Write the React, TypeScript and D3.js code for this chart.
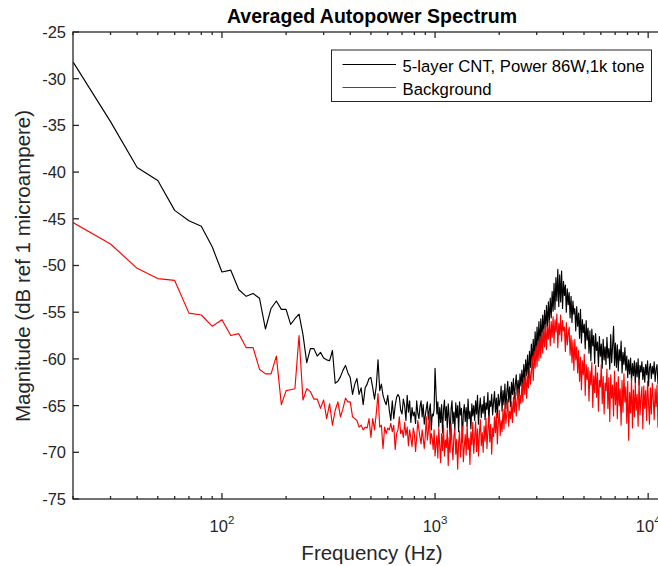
import React from 'react';
import * as d3 from 'd3';

// ---------- data ----------
// FFT bins 20..1000 Hz (10 Hz spacing), then a denser log grid of bins up to the right edge
const lowFreqs: number[] = d3.range(20, 1001, 10);
const highFreqs: number[] = d3.range(240).map((i) => 1020 * Math.pow(11700 / 1020, i / 239));

const cntLow: number[] = [
  -28.2, -34.6, -39.5, -40.9, -44.1, -45.2, -45.8, -48.0, -50.7, -50.5,
  -52.6, -53.3, -53.0, -53.5, -56.8, -54.6, -53.8, -54.7, -54.7, -56.3,
  -55.7, -55.2, -57.4, -60.4, -58.9, -58.9, -59.7, -59.3, -59.9, -60.1,
  -60.2, -59.1, -62.6, -62.4, -61.9, -61.2, -60.7, -61.5, -62.0, -63.8,
  -62.7, -62.1, -63.8, -63.1, -64.9, -63.1, -62.7, -62.1, -62.0, -63.1,
  -64.3, -62.9, -60.1, -63.4, -62.7, -63.9, -64.5, -64.9, -63.9, -65.5,
  -66.6, -64.5, -66.4, -65.0, -64.1, -63.8, -64.1, -65.5, -65.9, -64.3,
  -65.0, -66.6, -63.9, -65.7, -64.5, -66.8, -65.2, -66.1, -65.7, -66.9,
  -64.5, -65.8, -66.4, -65.1, -64.5, -66.2, -64.9, -67.0, -66.1, -65.3,
  -64.6, -66.5, -65.5, -64.8, -67.6, -65.9, -66.1, -65.4, -61.0,
];
const bgLow: number[] = [
  -45.4, -47.7, -50.3, -51.4, -51.6, -55.1, -55.3, -56.5, -55.8, -57.5,
  -57.3, -58.8, -58.8, -61.1, -61.6, -61.6, -59.7, -64.9, -63.4, -63.3,
  -63.2, -57.5, -64.4, -63.2, -63.5, -64.3, -64.3, -65.3, -64.4, -66.4,
  -64.8, -67.1, -65.5, -64.6, -66.2, -65.3, -64.2, -64.6, -64.6, -66.2,
  -66.4, -66.6, -67.3, -67.1, -67.6, -67.3, -67.4, -66.4, -68.4, -66.4,
  -67.6, -65.8, -63.7, -67.3, -67.1, -69.6, -67.3, -68.0, -67.4, -67.6,
  -66.9, -67.8, -67.1, -69.7, -68.0, -67.6, -66.2, -68.0, -67.6, -68.4,
  -66.8, -68.2, -67.3, -69.3, -67.6, -68.5, -69.4, -67.4, -68.0, -69.9,
  -68.4, -66.6, -67.6, -68.4, -69.1, -67.6, -68.5, -69.6, -68.2, -66.2,
  -68.7, -67.8, -65.8, -69.1, -68.0, -68.5, -69.7, -67.6, -70.4,
];
const cntHigh: number[] = [
  -65.9, -64.6, -67.3, -65.2, -66.8, -64.9, -67.9, -65.5, -64.4, -66.6,
  -65.1, -67.4, -64.8, -66.2, -68.3, -65.4, -64.5, -66.9, -65.7, -67.6,
  -64.7, -66.3, -65.0, -67.8, -64.6, -66.0, -65.3, -68.9, -65.8, -64.9,
  -66.7, -65.2, -67.2, -64.3, -66.4, -65.6, -67.5, -64.8, -66.1, -65.0,
  -66.6, -64.5, -65.9, -63.9, -67.0, -65.3, -64.2, -66.3, -64.9, -65.8,
  -64.0, -66.5, -64.7, -65.4, -63.6, -66.8, -64.5, -65.1, -63.8, -66.0,
  -64.6, -63.5, -65.7, -64.2, -66.3, -63.8, -65.0, -64.4, -62.9, -65.6,
  -63.4, -64.9, -62.7, -65.3, -63.6, -62.4, -64.6, -63.0, -65.1, -62.5,
  -63.8, -62.1, -64.3, -62.8, -61.7, -63.9, -62.3, -64.0, -61.6, -62.9,
  -61.2, -63.1, -60.6, -62.4, -60.1, -61.8, -59.6, -62.2, -59.2, -60.9,
  -58.4, -60.7, -57.9, -60.2, -57.1, -59.5, -56.6, -58.8, -56.0, -58.9,
  -55.7, -58.2, -55.3, -57.4, -54.8, -56.9, -54.3, -56.6, -53.9, -56.1,
  -53.5, -55.6, -52.8, -54.9, -51.9, -54.7, -51.3, -53.8, -50.4, -54.4,
  -51.0, -53.9, -50.6, -54.6, -51.7, -53.2, -52.1, -55.0, -52.5, -54.2,
  -52.9, -55.6, -53.3, -56.1, -53.8, -55.2, -54.6, -57.0, -54.4, -56.5,
  -55.1, -57.8, -54.7, -58.3, -55.8, -57.2, -56.3, -58.9, -55.9, -58.0,
  -56.7, -59.4, -57.0, -60.2, -56.8, -58.6, -57.5, -60.5, -57.3, -59.1,
  -58.2, -60.8, -57.6, -59.7, -58.4, -61.0, -57.9, -60.1, -58.7, -60.6,
  -57.7, -59.9, -58.9, -61.1, -57.4, -60.4, -58.6, -56.5, -60.7, -58.3,
  -60.9, -58.5, -61.3, -59.0, -60.2, -58.1, -61.5, -59.3, -60.6, -58.8,
  -61.2, -59.7, -62.0, -60.1, -61.6, -59.9, -62.4, -60.5, -61.8, -60.2,
  -62.6, -60.4, -61.9, -60.0, -62.8, -60.7, -61.4, -60.3, -62.2, -60.9,
  -62.5, -60.6, -61.7, -60.2, -62.9, -61.0, -60.5, -62.1, -60.8, -61.6,
  -60.3, -62.4, -61.1, -60.6, -62.7, -60.9, -61.8, -60.4, -62.2, -61.0,
];
const bgHigh: number[] = [
  -68.2, -70.6, -67.4, -69.3, -71.1, -68.0, -69.8, -67.1, -70.4, -68.7,
  -69.5, -67.6, -71.4, -68.4, -70.0, -66.9, -69.1, -70.8, -68.3, -67.5,
  -70.2, -68.6, -71.8, -69.0, -67.7, -70.5, -68.9, -67.2, -71.0, -69.4,
  -68.1, -70.3, -67.0, -69.7, -68.5, -71.3, -67.8, -69.2, -66.8, -70.1,
  -68.4, -66.7, -69.9, -67.5, -70.4, -68.0, -66.5, -69.3, -67.9, -70.0,
  -67.2, -68.8, -66.4, -69.6, -67.7, -66.1, -68.9, -67.0, -70.2, -67.4,
  -68.3, -66.2, -67.9, -65.8, -69.1, -66.9, -65.5, -68.2, -66.6, -67.8,
  -65.4, -67.5, -64.8, -66.9, -65.9, -64.3, -67.2, -65.6, -66.4, -64.6,
  -66.8, -64.1, -65.7, -63.6, -66.1, -64.4, -63.2, -65.5, -63.9, -64.8,
  -62.6, -64.6, -62.0, -63.8, -61.4, -64.2, -61.9, -63.1, -60.8, -62.7,
  -61.5, -59.7, -62.3, -59.2, -61.0, -58.6, -60.8, -58.1, -60.2, -57.6,
  -59.9, -57.2, -59.4, -56.8, -58.7, -56.3, -59.0, -56.5, -57.9, -55.9,
  -58.6, -56.0, -57.7, -55.5, -58.3, -55.8, -57.1, -55.2, -58.8, -56.2,
  -57.4, -55.3, -58.1, -55.9, -57.0, -56.6, -59.2, -56.1, -58.5, -57.3,
  -56.6, -59.6, -57.5, -60.4, -58.0, -61.2, -57.9, -60.1, -58.7, -61.5,
  -59.1, -62.4, -59.8, -63.3, -60.2, -61.7, -59.5, -63.9, -60.6, -62.2,
  -60.9, -64.5, -61.3, -62.8, -60.4, -65.2, -61.8, -63.6, -60.7, -64.1,
  -61.5, -65.6, -62.3, -63.0, -60.6, -64.8, -61.9, -65.9, -62.6, -63.4,
  -61.1, -65.3, -62.0, -66.7, -61.7, -64.2, -62.8, -66.1, -61.3, -64.9,
  -62.5, -66.4, -61.9, -65.0, -63.2, -67.1, -62.3, -65.7, -61.6, -64.6,
  -63.0, -66.9, -62.4, -68.7, -63.6, -65.8, -62.1, -67.4, -63.3, -66.2,
  -62.7, -65.5, -63.8, -67.2, -62.2, -66.0, -64.1, -63.0, -67.5, -62.9,
  -65.3, -63.4, -66.6, -62.4, -64.7, -67.0, -63.1, -65.9, -62.6, -64.3,
  -66.5, -63.2, -65.1, -62.8, -67.3, -63.7, -64.9, -62.5, -66.2, -63.6,
];

const seriesNames: string[] = ['5-layer CNT, Power 86W,1k tone', 'Background'];
const seriesColors: string[] = ['#000000', '#ff0000'];
const yTickValues: number[] = [-75, -70, -65, -60, -55, -50, -45, -40, -35, -30, -25];
const xMajorTicks: number[] = [100, 1000, 10000];
const xMajorExponents: string[] = ['2', '3', '4'];
const xMinorTicks: number[] = [20, 30, 40, 50, 60, 70, 80, 90, 200, 300, 400, 500, 600, 700, 800, 900,
  2000, 3000, 4000, 5000, 6000, 7000, 8000, 9000];

const titleText = 'Averaged Autopower Spectrum';
const xLabel = 'Frequency (Hz)';
const yLabel = 'Magnitude (dB ref 1 microampere)';

const FONT = '"Liberation Sans", Arial, Helvetica, sans-serif';
const AX = '#262626';

export default function App() {
  const L = 73, R = 671, T = 32, B = 499;
  const x = d3.scaleLog().domain([20, 12800]).range([L, R]);
  const y = d3.scaleLinear().domain([-75, -25]).range([B, T]);

  const freqs = lowFreqs.concat(highFreqs);
  const series = [cntLow.concat(cntHigh), bgLow.concat(bgHigh)];
  const line = d3
    .line<number>()
    .x((_, i) => x(freqs[i]))
    .y((d) => y(d));

  const majLen = 6, minLen = 3;

  return (
    <svg width={658} height={566} style={{ position: 'absolute', left: 0, top: 0, background: '#fff' }}
      fontFamily={FONT}>
      <rect x={0} y={0} width={658} height={566} fill="#fff" />
      <defs>
        <clipPath id="plotClip">
          <rect x={L} y={T} width={R - L} height={B - T} />
        </clipPath>
      </defs>

      {/* data */}
      <g clipPath="url(#plotClip)">
        {series.map((s, k) => (
          <path key={k} d={line(s) || ''} fill="none" stroke={seriesColors[k]} strokeWidth={1.15}
            strokeLinejoin="round" />
        ))}
      </g>

      {/* axes box */}
      <rect x={L} y={T} width={R - L} height={B - T} fill="none" stroke={AX} strokeWidth={1.3} />

      {/* y ticks */}
      {yTickValues.map((v) => (
        <g key={v}>
          <line x1={L} x2={L + majLen} y1={y(v)} y2={y(v)} stroke={AX} strokeWidth={1.3} />
          <line x1={R} x2={R - majLen} y1={y(v)} y2={y(v)} stroke={AX} strokeWidth={1.3} />
          <text x={L - 7} y={y(v)} dy="0.36em" textAnchor="end" fontSize={16.5} fill={AX}>
            {String(v)}
          </text>
        </g>
      ))}

      {/* x ticks */}
      {xMinorTicks.map((f) => (
        <g key={f}>
          <line x1={x(f)} x2={x(f)} y1={B} y2={B - minLen} stroke={AX} strokeWidth={1.3} />
          <line x1={x(f)} x2={x(f)} y1={T} y2={T + minLen} stroke={AX} strokeWidth={1.3} />
        </g>
      ))}
      {xMajorTicks.map((f, i) => (
        <g key={f}>
          <line x1={x(f)} x2={x(f)} y1={B} y2={B - majLen} stroke={AX} strokeWidth={1.3} />
          <line x1={x(f)} x2={x(f)} y1={T} y2={T + majLen} stroke={AX} strokeWidth={1.3} />
          <text x={x(f)} y={531.5} textAnchor="middle" fontSize={16.5} fill={AX}>
            10
            <tspan dy={-8} fontSize={11.5}>{xMajorExponents[i]}</tspan>
          </text>
        </g>
      ))}

      {/* labels */}
      <text x={372} y={22.5} textAnchor="middle" fontSize={19.5} fontWeight="bold" fill="#000">
        {titleText}
      </text>
      <text x={372} y={560} textAnchor="middle" fontSize={20.5} fill={AX}>
        {xLabel}
      </text>
      <text transform={`translate(30,266) rotate(-90)`} textAnchor="middle" fontSize={20.5} fill={AX}>
        {yLabel}
      </text>

      {/* legend */}
      <rect x={331.5} y={50} width={320} height={51.5} fill="#fff" stroke={AX} strokeWidth={1} />
      {seriesNames.map((n, i) => (
        <g key={n}>
          <line x1={342.5} x2={396} y1={64.5 + i * 23} y2={64.5 + i * 23} stroke={seriesColors[i]}
            strokeWidth={1.15} />
          <text x={402.5} y={71.5 + i * 23} fontSize={16.7} fill="#000">
            {n}
          </text>
        </g>
      ))}
    </svg>
  );
}
